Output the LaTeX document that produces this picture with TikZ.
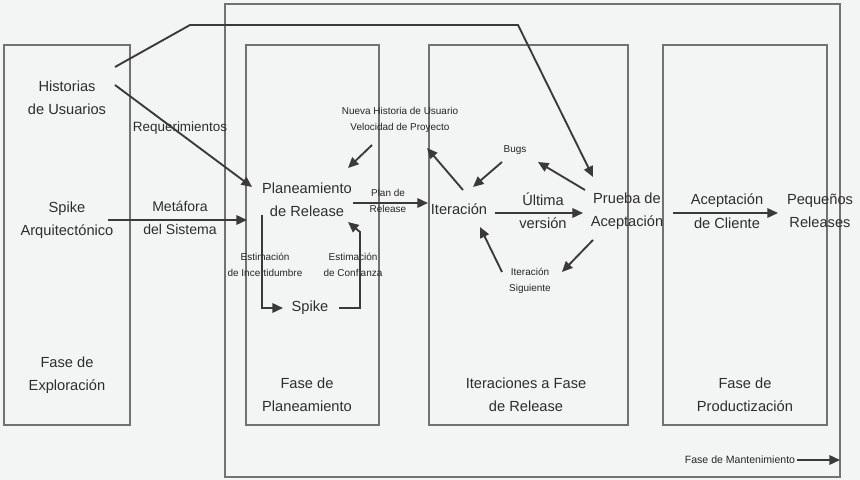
\documentclass[tikz,border=0pt]{standalone}
\usepackage{fontspec}
\setmainfont{Liberation Sans}
\usetikzlibrary{arrows.meta,calc}
\definecolor{linegray}{HTML}{3A3A3A}
\definecolor{boxgray}{HTML}{727272}
\definecolor{textgray}{HTML}{2E2E2E}
\definecolor{paper}{HTML}{F3F4F4}

\begin{document}
\begin{tikzpicture}[x=0.03cm,y=-0.03cm]
        \tikzset{phase box/.style={draw=boxgray, line width=1pt},
            link/.style={draw=linegray, line width=1.6pt},
            flow/.style={link, -{Triangle[length=9pt,width=8pt]}},
            big text/.style={text=textgray, align=center, inner sep=1pt,
                font=\fontsize{12.5}{20}\selectfont},
            small text/.style={text=black!85, align=center, inner sep=1pt,
                font=\fontsize{8.5}{14}\selectfont}}

        \fill[paper] (0,0) rectangle (860,480);
        \useasboundingbox (0,0) rectangle (860,480);

        % phases
        \coordinate (outer nw) at (225,4);
        \coordinate (outer se) at (840,477);
        \draw[phase box] (outer nw) rectangle (outer se);
        \draw[phase box] (4,45) rectangle (130,425);
        \draw[phase box] (246,45) rectangle (379,425);
        \draw[phase box] (429,45) rectangle (628,425);
        \draw[phase box] (663,45) rectangle (827,425);

        \node[big text] (hist) at (67,98) {Historias\\de Usuarios};
        \node[big text] (spikea) at (67,220) {Spike\\Arquitectónico};
        \node[big text] (fexp) at (67,375) {Fase de\\Exploración};
        \node[big text, font=\fontsize{11.5}{18}\selectfont] (req) at (180,128) {Requerimientos};
        \node[big text, font=\fontsize{12}{20}\selectfont] (meta) at (180,218) {Metáfora\\del Sistema};

        \node[big text] (plan) at (307,200) {Planeamiento\\de Release};
        \node[small text] (planrel) at (388,201) {Plan de\\Release};
        \node[small text] (nueva) at (400,120) {Nueva Historia de Usuario\\Velocidad de Proyecto};
        \node[big text] (spike) at (310,308) {Spike};
        \node[small text] (estinc) at (265,265) {Estimación\\de Incertidumbre};
        \node[small text] (estconf) at (353,265) {Estimación\\de Confianza};
        \node[big text] (fplan) at (307,395) {Fase de\\Planeamiento};

        \node[big text] (iter) at (459,209) {Iteración};
        \node[small text] (bugs) at (515,150) {Bugs};
        \node[big text] (ultima) at (543,211) {Última\\versión};
        \node[small text] (itsig) at (530,281) {Iteración\\Siguiente};
        \node[big text] (prueba) at (627,211) {Prueba de\\Aceptación};
        \node[big text] (fiter) at (526,395) {Iteraciones a Fase\\de Release};

        \node[big text] (acep) at (727,211) {Aceptación\\de Cliente};
        \node[big text] (peq) at (820,211) {Pequeños\\Releases};
        \node[big text] (fprod) at (745,395) {Fase de\\Productización};
        \node[text=black!85, inner sep=1pt, font=\fontsize{9}{12}\selectfont] (mant) at (740,460) {Fase de Mantenimiento};

        % flows
        \coordinate (bend a) at (190,25);
        \coordinate (bend b) at (518,25);
        \draw[flow] ($(hist)+(48,-31)$) -- (bend a) -- (bend b) -- ($(prueba)+(-34,-34)$);
        \draw[flow] ($(hist)+(48,-13)$) -- ($(plan)+(-55,-13)$);
        \draw[flow] ($(spikea)+(41,0)$) -- ($(plan)+(-60,20)$);
        \draw[flow] ($(plan)+(46,3)$) -- ($(iter)+(-31,-6)$);
        \draw[flow] ($(nueva)+(-28,25)$) -- ($(plan)+(41,-32)$);
        \draw[flow] ($(plan)+(-45,15)$) |- ($(spike)+(-27,0)$);
        \draw[flow] ($(spike)+(29,0)$) -- ++(21,0) -- ++(0,-76) -- ($(plan)+(41,22)$);

        \draw[flow] ($(iter)+(4,-19)$) -- ($(nueva)+(27,28)$);
        \draw[flow] ($(bugs)+(-13,12)$) -- ($(iter)+(14,-22)$);
        \draw[flow] ($(prueba)+(-42,-21)$) -- ($(bugs)+(23,12)$);
        \draw[flow] ($(iter)+(36,4)$) -- ($(prueba)+(-44,2)$);
        \draw[flow] ($(prueba)+(-34,29)$) -- ($(itsig)+(32,-9)$);
        \draw[flow] ($(itsig)+(-28,-9)$) -- ($(iter)+(21,18)$);
        \draw[flow] ($(prueba)+(46,2)$) -- ($(peq)+(-42,2)$);

        \draw[flow] (mant.east) -- (mant.east -| outer se);
    \end{tikzpicture}
\end{document}
